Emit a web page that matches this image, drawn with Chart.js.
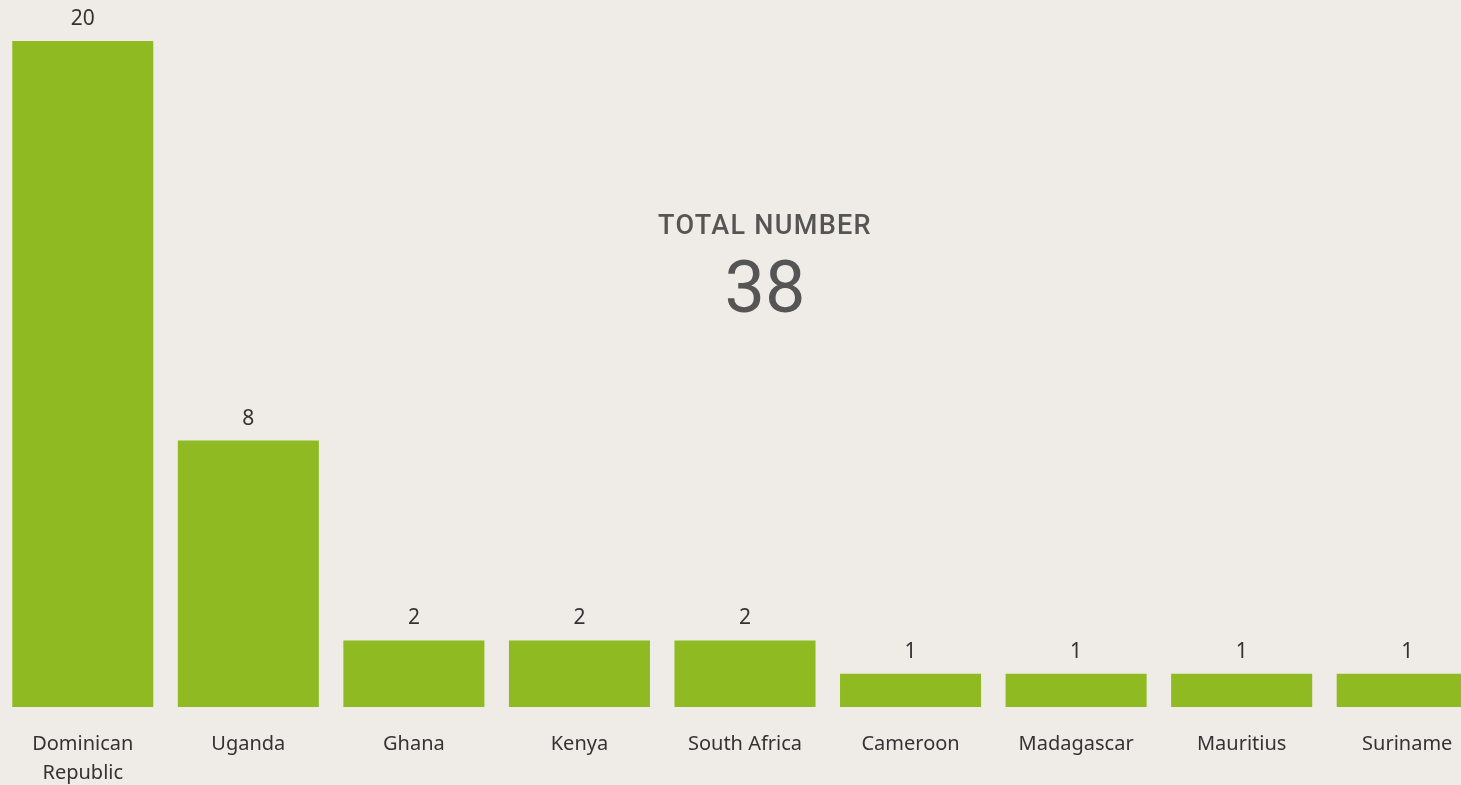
<!DOCTYPE html>
<html>
<head>
<meta charset="utf-8">
<script src="https://cdn.jsdelivr.net/npm/chart.js@4/dist/chart.umd.min.js"></script>
<style>
  html, body { margin: 0; padding: 0; background: #efece7; overflow: hidden; }
  #wrap { position: relative; width: 1461px; height: 785px; overflow: hidden; }
  #chart { position: absolute; left: 0; top: 0; }
  .total { position: absolute; left: 615px; width: 300px; text-align: center; color: #555; font-family: Roboto, "DejaVu Sans", sans-serif; }
  #total-label { top: 209px; font-size: 27px; font-weight: 500; letter-spacing: 1.3px; }
  #total-value { top: 252px; font-size: 72px; font-weight: 400; line-height: 1; }
</style>
</head>
<body>
<div id="wrap">
  <canvas id="chart" width="1490" height="811"></canvas>
  <div class="total" id="total-label">TOTAL NUMBER</div>
  <div class="total" id="total-value">38</div>
</div>
<script>
// 資料
const countries = [['Dominican', 'Republic'], 'Uganda', 'Ghana', 'Kenya', 'South Africa', 'Cameroon', 'Madagascar', 'Mauritius', 'Suriname'];
const counts = [20, 8, 2, 2, 2, 1, 1, 1, 1];

// 長條上方數值
const valueLabels = {
  id: 'valueLabels',
  afterDatasetsDraw(chart) {
    const ctx = chart.ctx;
    const meta = chart.getDatasetMeta(0);
    ctx.save();
    ctx.font = '21px "Noto Sans", "Open Sans", sans-serif';
    ctx.fillStyle = '#333';
    ctx.textAlign = 'center';
    ctx.textBaseline = 'middle';
    meta.data.forEach((bar, i) => {
      ctx.fillText(String(counts[i]), bar.x, bar.y - 22);
    });
    ctx.restore();
  }
};

new Chart(document.getElementById('chart'), {
  type: 'bar',
  data: {
    labels: countries,
    datasets: [{
      data: counts,
      backgroundColor: '#8fba21',
      barPercentage: 0.852,
      categoryPercentage: 1
    }]
  },
  options: {
    responsive: false,
    animation: false,
    layout: { padding: { top: 41, left: 0, right: 0, bottom: 0 } },
    plugins: { legend: { display: false }, tooltip: { enabled: false } },
    scales: {
      x: {
        grid: { display: false, drawTicks: false },
        border: { display: false },
        ticks: {
          color: '#333',
          padding: 23,
          maxRotation: 0,
          autoSkip: false,
          font: { family: '"Noto Sans", "Open Sans", sans-serif', size: 20, lineHeight: 1.45 }
        }
      },
      y: { display: false, min: 0, max: 20 }
    }
  },
  plugins: [valueLabels]
});
</script>
</body>
</html>
